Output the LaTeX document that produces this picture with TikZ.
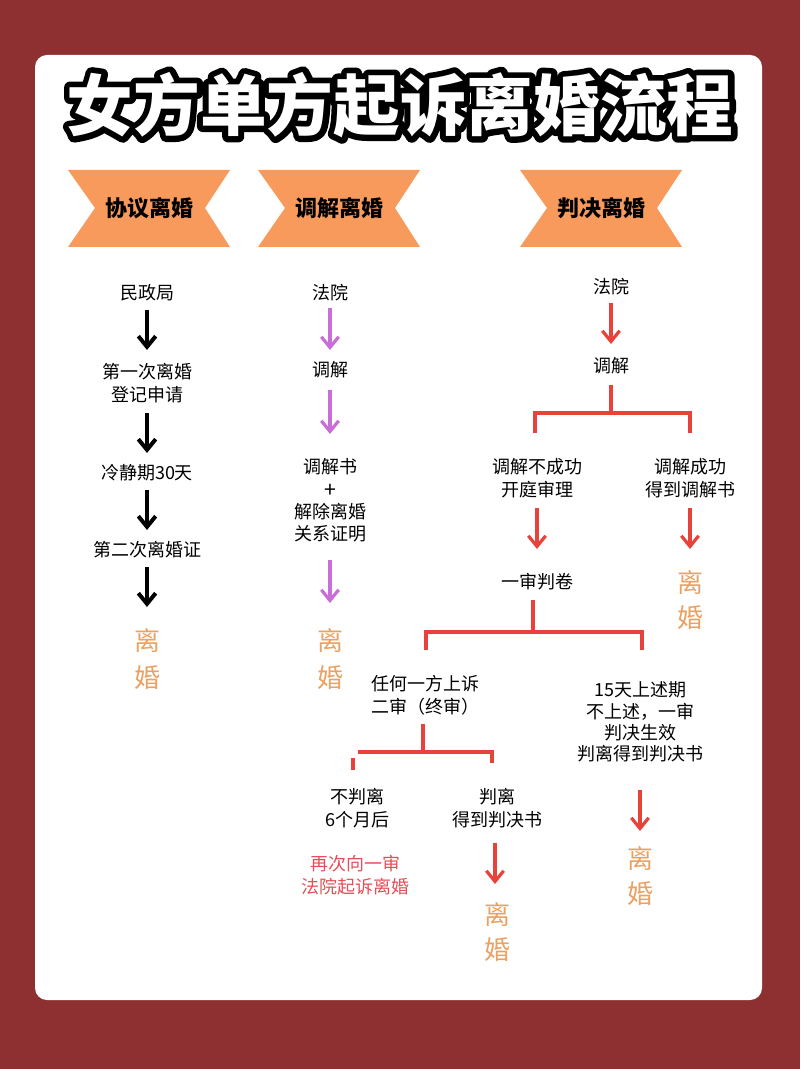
\documentclass[tikz,border=0pt]{standalone}
\usepackage{fontspec}
\setmainfont{Noto Sans CJK SC}
\newfontfamily\cjk{Noto Sans CJK SC}
\usetikzlibrary{arrows.meta,calc}
\definecolor{bgred}{HTML}{8E2F31}
\definecolor{banner}{HTML}{F89A5B}
\definecolor{oran}{HTML}{E9A263}
\definecolor{purp}{HTML}{C96ED8}
\definecolor{rred}{HTML}{E8433B}
\definecolor{tred}{HTML}{E25058}
\newcommand{\outlinetext}[1]{\special{pdf:literal direct 1 j 9 w 0 0 0 RG 0 0 0 rg 2 Tr}#1\special{pdf:literal direct 0 Tr 1 w}}
\begin{document}
\begin{tikzpicture}[x=0.75pt,y=-0.75pt,
  t/.style={font=\cjk\fontsize{13.5}{15}\selectfont, text=black, inner sep=0pt},
  tr/.style={t, text=tred},
  big/.style={font=\cjk\fontsize{19.5}{21}\selectfont, text=oran, inner sep=0pt},
  bt/.style={font=\cjk\bfseries\fontsize{16.5}{18}\selectfont, inner sep=0pt},
  ar/.style={line width=#1, -{Straight Barb[length=8pt,width=13pt,line width=#1]}},
  ab/.style={ar=3pt, black},
  ap/.style={ar=2.4pt, purp},
  aR/.style={ar=2.4pt, rred},
  br/.style={rred, line width=3pt},
  ban/.style={fill=banner},
  ttl/.style={font=\cjk\bfseries\fontsize{50}{54}\selectfont, inner sep=0pt}]
\useasboundingbox (0,0) rectangle (800,1069);
\fill[bgred] (0,0) rectangle (800,1069);
\fill[white, rounded corners=9pt] (35,55) rectangle (762,1000);
% title
\node[ttl, text=black] (titleo) at (400,105) {\outlinetext{女方单方起诉离婚流程}};
\node[ttl, text=white] (title) at (400,105) {女方单方起诉离婚流程};
% banners
\foreach \x/\txt/\n in {68/协议离婚/b1,258/调解离婚/b2,520/判决离婚/b3}{
  \fill[ban] (\x,170) -- (\x+162,170) -- (\x+137,208) -- (\x+162,247) -- (\x,247) -- (\x+27,208) -- cycle;
  \node[bt] (\n) at (\x+81,208) {\txt};
}
% column 1
\node[t] (a1) at (147,293) {民政局};
\node[t,align=center] (a2) at (147,383) {第一次离婚\\[2pt]登记申请};
\node[t] (a3) at (147,473) {冷静期30天};
\node[t] (a4) at (147,550) {第二次离婚证};
\node[big,align=center] (a5) at (147,659) {离\\[7pt]婚};
\draw[ab] (147,310) -- (147,350);
\draw[ab] (147,413) -- (147,453);
\draw[ab] (147,490) -- (147,530);
\draw[ab] (147,567) -- (147,607);
% column 2
\node[t] (c1) at (330,293) {法院};
\node[t] (c2) at (330,370) {调解};
\node[t,align=center] (c3) at (330,500) {调解书\\[3pt]{\fontsize{16}{16}\selectfont +}\\[1pt]解除离婚\\[1pt]关系证明};
\node[big,align=center] (c5) at (330,659) {离\\[7pt]婚};
\draw[ap] (330,308) -- (330,350);
\draw[ap] (330,390) -- (330,434);
\draw[ap] (330,560) -- (330,603);
% column 3
\node[t] (d1) at (611,287) {法院};
\node[t] (d2) at (611,366) {调解};
\draw[aR] (611,303) -- (611,344);
\draw[br] (611,385) -- (611,413);
\draw[br] (535,433) -- (535,413) -- (690,413) -- (690,433);
\node[t,align=center] (d3) at (537,478) {调解不成功\\[2pt]开庭审理};
\node[t,align=center] (d4) at (690,478) {调解成功\\[2pt]得到调解书};
\draw[aR] (537,508) -- (537,549);
\draw[aR] (690,508) -- (690,549);
\node[t] (d5) at (537,582) {一审判卷};
\node[big,align=center] (d6) at (690,600) {离\\[5pt]婚};
\draw[br] (533,600) -- (533,632);
\draw[br] (426,650) -- (426,632) -- (642,632) -- (642,650);
\node[t,align=left] (e1) at (425,695) {任何一方上诉\\[2pt]二审（终审）};
\node[t,align=center] (e2) at (640,722) {15天上述期\\[1pt]不上述，一审\\[1pt]判决生效\\[1pt]判离得到判决书};
\draw[br] (423,724) -- (423,752);
\draw[br] (358,752) -- (492,752) -- (492,763);
\draw[br] (353,758) -- (353,770);
\node[t,align=center] (f1) at (357,808) {不判离\\[2pt]6个月后};
\node[t,align=center] (f2) at (497,808) {判离\\[2pt]得到判决书};
\node[tr,align=center] (f3) at (355,875) {再次向一审\\[2pt]法院起诉离婚};
\draw[aR] (495,843) -- (495,884);
\node[big,align=center] (f4) at (497,932) {离\\[5pt]婚};
\draw[aR] (640,790) -- (640,831);
\node[big,align=center] (e3) at (640,876) {离\\[5pt]婚};
\end{tikzpicture}
\end{document}
